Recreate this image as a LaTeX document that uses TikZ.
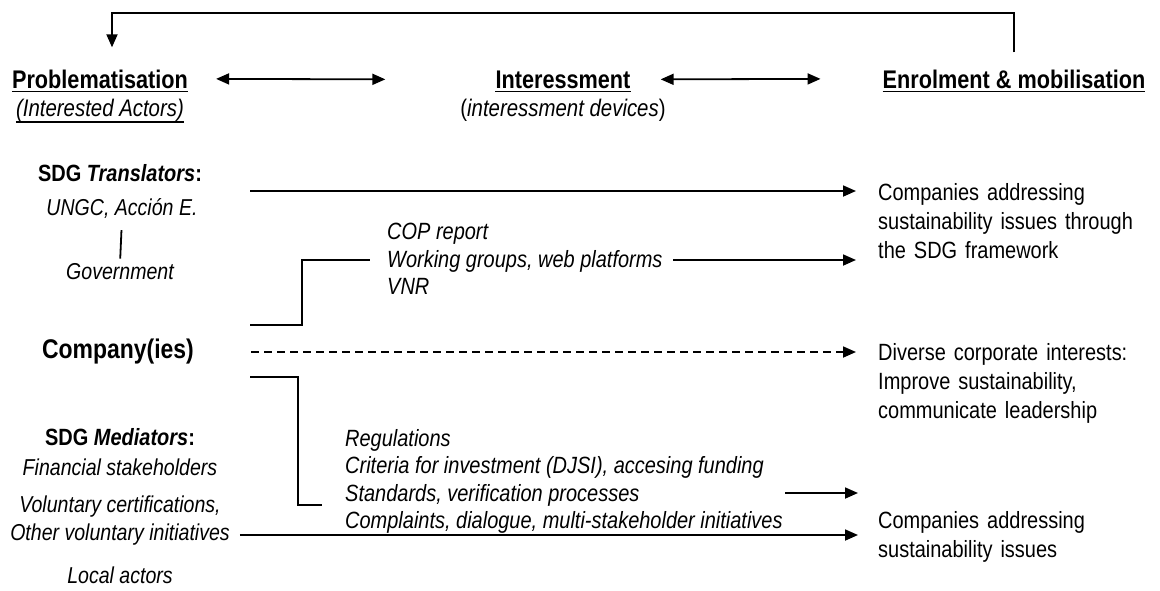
\documentclass[tikz,border=0pt]{standalone}
\usepackage{fontspec}
\setmainfont{Liberation Sans}[FakeStretch=0.85]
\usetikzlibrary{arrows.meta,positioning}

\newcommand\widespace{\spaceskip=8pt plus 2pt\relax}

\tikzset{
  link/.style={line width=1.8pt},
  flow/.style={link,-{Triangle[length=13pt,width=11pt]}},
  both/.style={link,{Triangle[length=13pt,width=11pt]}-{Triangle[length=13pt,width=11pt]}},
  head/.style={font=\fontsize{25.5}{30}\selectfont\bfseries,inner sep=0pt},
  sub/.style={font=\fontsize{24}{29}\selectfont,inner sep=0pt},
  actor/.style={font=\fontsize{23}{28}\selectfont\itshape,inner sep=0pt},
  group/.style={font=\fontsize{23.5}{28}\selectfont\bfseries,inner sep=0pt},
  device/.style={font=\fontsize{23.5}{27.5}\selectfont\itshape,inner sep=0pt,align=left,anchor=north west},
  outcome/.style={font=\fontsize{23.5}{29}\selectfont\widespace,inner sep=0pt,align=left,anchor=north west}
}

\begin{document}
\begin{tikzpicture}[x=1pt,y=-1pt]
    \useasboundingbox (0,0) rectangle (1160,590);

    % stages
    \node[head,anchor=base] (prob) at (100,88) {Problematisation};
    \node[sub,anchor=base] (actors) at (100,116) {\itshape (Interested Actors)};
    \node[head,anchor=base] (inter) at (563,88) {Interessment};
    \node[sub,anchor=base] (devices) at (563,116) {(\textit{interessment devices})};
    \node[head,anchor=base] (enrol) at (1014,88) {Enrolment \& mobilisation};

    \draw[link] ([yshift=-3.5pt]prob.base west) -- ([yshift=-3.5pt]prob.base east);
    \draw[link] ([yshift=-6pt]actors.base west) -- ([yshift=-6pt]actors.base east);
    \draw[link] ([yshift=-3.5pt]inter.base west) -- ([yshift=-3.5pt]inter.base east);
    \draw[link] ([yshift=-3.5pt]enrol.base west) -- ([yshift=-3.5pt]enrol.base east);

    \draw[both] ([xshift=28pt]prob.east) -- ([xshift=-110pt]inter.west);
    \draw[both] ([xshift=30pt]inter.east) -- ([xshift=-62pt]enrol.west);

    % feedback loop
    \draw[flow] ([yshift=17pt]enrol.north) -- ++(0,-39) -| ([xshift=12pt,yshift=22pt]prob.north);

    % actors
    \node[group] (transl) at (120,173) {SDG \textit{Translators}:};
    \node[actor] (ungc) at (122,208) {UNGC, Acción E.};
    \node[actor] (gov) at (120,272) {Government};
    \draw[link,shorten <=12pt,shorten >=5pt] (ungc.south) -- (gov.north);

    \node[font=\fontsize{27}{30}\selectfont\bfseries,inner sep=0pt] (comp) at (118,352) {Company(ies)};

    \node[group] (medi) at (120,437) {SDG \textit{Mediators}:};
    \node[actor] (fin) at (120,467) {Financial stakeholders};
    \node[actor] (volc) at (120,507) {Voluntary certifications,};
    \node[actor] (volo) at (120,535) {Other voluntary initiatives};
    \node[actor] (local) at (120,575) {Local actors};

    % interessment devices
    \node[device] (cop) at (387,223) {COP report\\Working groups, web platforms\\VNR};
    \node[device] (regs) at (345,429) {Regulations\\Criteria for investment (DJSI), accesing funding\\Standards, verification processes\\Complaints, dialogue, multi-stakeholder initiatives};

    % outcomes
    \node[outcome] (out1) at (878,183) {Companies addressing\\sustainability issues through\\the SDG framework};
    \node[outcome] (out2) at (878,343) {Diverse corporate interests:\\Improve sustainability,\\communicate leadership};
    \node[outcome] (out3) at (878,511) {Companies addressing\\sustainability issues};

    % connectors
    \coordinate (t0) at (250,191);
    \coordinate (c1) at (250,325);
    \coordinate (w1) at (370,260);
    \coordinate (w0) at (673,260);
    \coordinate (c2) at (250,377);
    \coordinate (s1) at (322,505);
    \coordinate (s0) at (785,493);

    \draw[flow,shorten >=22pt] (t0) -- (t0 -| out1.west);
    \draw[link] (c1) -- ++(52,0) |- (w1);
    \draw[flow,shorten >=22pt] (w0) -- (w0 -| out1.west);
    \draw[flow,dashed,dash pattern=on 8pt off 5pt,shorten >=22pt] ([xshift=57pt]comp.east) -- (comp.east -| out2.west);
    \draw[link] (c2) -- ++(48,0) |- (s1);
    \draw[flow,shorten >=20pt] (s0) -- (s0 -| out3.west);
    \draw[flow,shorten >=20pt] ([xshift=10pt]volo.east) -- (volo.east -| out3.west);

\end{tikzpicture}
\end{document}
